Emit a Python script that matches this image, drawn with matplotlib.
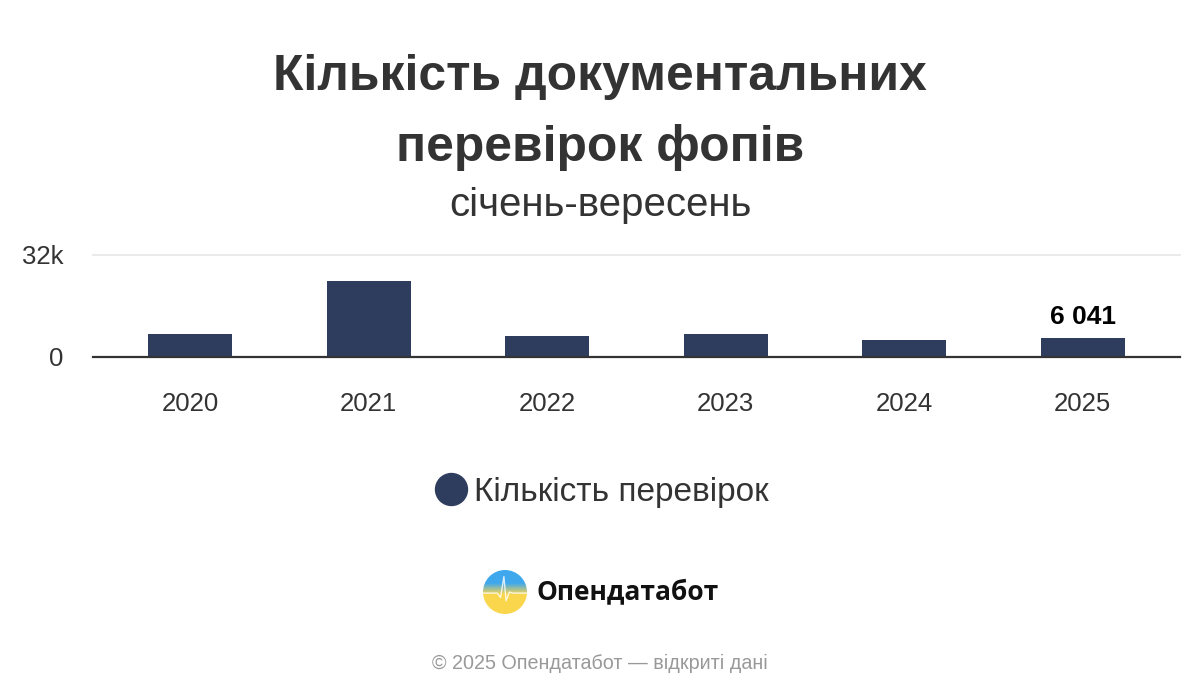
import numpy as np
import matplotlib
matplotlib.use("Agg")
import matplotlib.pyplot as plt
from matplotlib.lines import Line2D
from matplotlib.patches import Circle

plt.rcParams['font.family'] = ['Liberation Sans', 'DejaVu Sans']

years = ['2020', '2021', '2022', '2023', '2024', '2025']
counts = [7200, 24000, 6600, 7200, 5400, 6041]
y_ticks = [0, 32000]
y_tick_labels = ['0', '32k']
label_year = '2025'
label_text = '6 041'

title_line1 = 'Кількість документальних'
title_line2 = 'перевірок фопів'
subtitle = 'січень-вересень'
legend_label = 'Кількість перевірок'
brand = 'Опендатабот'
footer = '© 2025 Опендатабот — відкриті дані'

bar_color = '#2e3d5e'
text_color = '#333333'

fig = plt.figure(figsize=(12, 7), dpi=100)
fig.patch.set_facecolor('white')

ax = fig.add_axes([93/1200, 1-357/700, (1180-93)/1200, (357-255)/700])
x = np.arange(len(years))
ax.bar(x, counts, width=0.47, color=bar_color, zorder=3)
ax.set_xlim(-0.545, len(years) - 1 + 0.545)
ax.set_ylim(0, 32000)
ax.set_yticks(y_ticks)
ax.set_yticklabels(y_tick_labels)
ax.set_xticks(x)
ax.set_xticklabels(years)
ax.tick_params(axis='both', length=0, labelsize=18.5, colors=text_color)
ax.tick_params(axis='x', pad=25.5)
ax.tick_params(axis='y', pad=21)
for s in ['top', 'right', 'left']:
    ax.spines[s].set_visible(False)
ax.spines['bottom'].set_color('#333333')
ax.spines['bottom'].set_linewidth(1.6)
ax.spines['bottom'].set_zorder(4)
ax.axhline(32000, color='#e6e6e6', lw=1.2, zorder=1, clip_on=False)

i = years.index(label_year)
ax.annotate(label_text, (x[i], counts[i]), xytext=(0, 10), textcoords='offset points',
            ha='center', va='baseline', fontsize=19, fontweight='bold', color='black')

fig.text(0.5, 1-90/700, title_line1, ha='center', va='baseline', fontsize=35.8,
         fontweight='bold', color=text_color)
fig.text(0.5, 1-161/700, title_line2, ha='center', va='baseline', fontsize=35.8,
         fontweight='bold', color=text_color)
fig.text(0.5, 1-216/700, subtitle, ha='center', va='baseline', fontsize=29, color=text_color)

handle = Line2D([], [], marker='o', ls='', color=bar_color, markersize=23)
fig.legend([handle], [legend_label], loc='center', bbox_to_anchor=(0.5, 1-492/700),
           frameon=False, fontsize=24, handletextpad=0.1, handlelength=1.2,
           labelcolor=text_color)

# logo
lax = fig.add_axes([(505-22)/1200, 1-(592+22)/700, 44/1200, 44/700])
lax.set_xlim(-1, 1)
lax.set_ylim(-1, 1)
lax.set_aspect('auto')
lax.axis('off')
yy = np.linspace(-1, 1, 200)[:, None]
blue = np.array([0.25, 0.66, 0.93])
yellow = np.array([0.98, 0.84, 0.30])
t = np.clip((yy + 0.1) / 0.5, 0, 1)
img = (t[..., None] * blue + (1 - t[..., None]) * yellow) * np.ones((1, 200, 1))
im = lax.imshow(img, extent=[-1, 1, -1, 1], origin='lower', interpolation='bilinear')
circ = Circle((0, 0), 1, transform=lax.transData)
im.set_clip_path(circ)
px = [-1, -0.35, -0.2, -0.05, 0.05, 0.2, 0.35, 1]
py = [-0.05, -0.05, -0.25, 0.7, -0.4, 0.0, -0.05, -0.05]
line, = lax.plot(px, py, color='white', lw=1.0, alpha=0.8)
line.set_clip_path(circ)

fig.text(536/1200, 1-592/700, brand, ha='left', va='center', fontsize=19,
         fontweight='bold', color='#111111', family=['Open Sans', 'DejaVu Sans'])
fig.text(0.5, 1-663/700, footer, ha='center', va='center', fontsize=14.2, color='#999999')

fig.savefig('out.png', dpi=100, facecolor='white')
